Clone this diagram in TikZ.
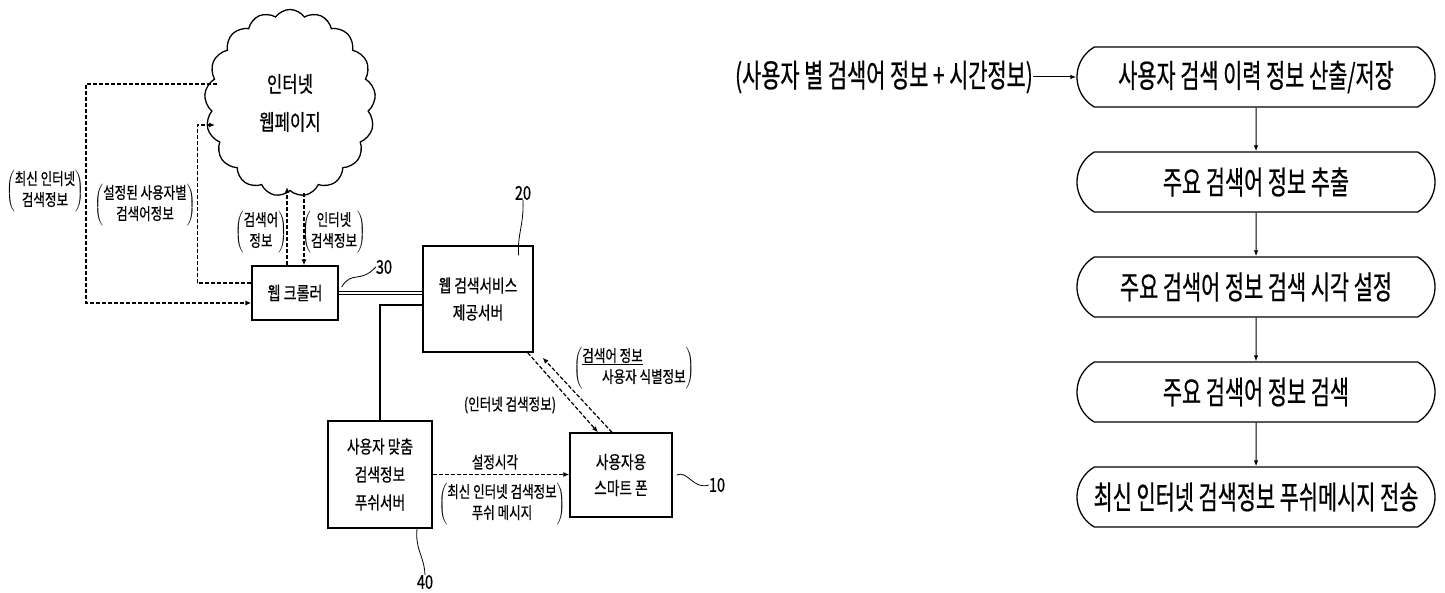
\documentclass[tikz,border=0pt]{standalone}
\usepackage{fontspec}
\setmainfont{Noto Sans CJK KR}[FakeStretch=0.65,FakeBold=0.6]
\newfontfamily\lf{Noto Sans CJK KR}[FakeStretch=0.76,FakeBold=0.6]
\usetikzlibrary{shapes.symbols,shapes.misc,arrows.meta,calc}
\newcommand{\plab}[2][c]{$\left(\vcenter{\hbox{\begin{tabular}{@{}#1@{}}#2\end{tabular}}}\right)$}
\begin{document}
\begin{tikzpicture}[x=1pt,y=-1pt,
  box/.style={draw,line width=1.3pt,inner sep=0pt,align=center},
  lbl/.style={inner sep=0pt,align=center,font=\lf\fontsize{16.5}{21}\selectfont},
  num/.style={inner sep=0pt,font=\lf\fontsize{19}{22}\selectfont},
  dsh/.style={line width=1.2pt,dash pattern=on 4pt off 2pt},
  tip/.style={-{Latex[length=6pt,width=5pt]}},
  ftip/.style={line width=1pt,-{Latex[length=6pt,width=4.5pt]}},
  flow/.style={draw,rounded rectangle,rounded rectangle arc length=120,line width=1.3pt,minimum width=358pt,minimum height=60pt,inner sep=0pt,font=\fontsize{32}{36}\selectfont},
  lead/.style={line width=0.8pt}
]
\useasboundingbox[fill=white] (0,0) rectangle (1445,593);

% ---- left diagram ----
\node[cloud,draw,line width=1.3pt,cloud puffs=17,cloud puff arc=110,aspect=0.9,
      minimum width=171pt,minimum height=187pt,inner sep=0pt,align=center,
      font=\lf\fontsize{22}{38}\selectfont] (cloud) at (290,103) {인터넷\\웹페이지};

\node[box,minimum width=86pt,minimum height=54pt,font=\lf\fontsize{18.5}{24}\selectfont] (crawl) at (295,293) {웹 크롤러};
\node[box,minimum width=110pt,minimum height=106pt,font=\lf\fontsize{18}{27}\selectfont] (srv) at (478,299) {웹 검색서비스\\제공서버};
\node[box,minimum width=104pt,minimum height=107pt,font=\lf\fontsize{18}{28}\selectfont] (push) at (380,474.5) {사용자 맞춤\\검색정보\\푸쉬서버};
\node[box,minimum width=102pt,minimum height=84pt,font=\lf\fontsize{18}{26}\selectfont] (phone) at (621,475) {사용자용\\스마트 폰};

\coordinate (c1) at (217,84);
\coordinate (c2) at (215,125);
\coordinate (c3) at (287,187);
\coordinate (c4) at (304,193);

\draw[dsh,tip] (c1) -- ++(-131,0) |- ([yshift=-10pt]crawl.west);
\draw[dsh,tip] ([yshift=10pt]crawl.west) -- ++(-54,0) |- (c2);
\draw[dsh,tip] ([xshift=-8pt]crawl.north) -- (c3);
\draw[dsh,tip] (c4) -- ([xshift=9pt]crawl.north);

\draw[line width=1.5pt,double,double distance=1.6pt] (crawl.east) -- (crawl.east -| srv.west);
\draw[line width=1.6pt] ([yshift=-6pt]srv.west) -| (push.north);
\draw[dsh,tip] (push.east) -- (push.east -| phone.west);
\draw[dsh,tip] ([xshift=-6pt]srv.south east) -- ([xshift=-23pt]phone.north);
\draw[dsh,tip] ([xshift=-9pt]phone.north) -- ([xshift=9pt,yshift=-5pt]srv.south east);

\node[lbl] (l1) at (45,191) {\plab{최신 인터넷\\검색정보}};
\node[lbl] (l2) at (145,205) {\plab{설정된 사용자별\\검색어정보}};
\node[lbl] (l3) at (261,232) {\plab{검색어\\정보}};
\node[lbl] (l4) at (334,232) {\plab{인터넷\\검색정보}};
\node[lbl] (l5) at (510,405) {(인터넷 검색정보)};
\node[lbl] (l6) at (634,368) {\plab[l]{\underline{검색어 정보}\\\hspace{1.2em}사용자 식별정보}};
\node[lbl] (l7) at (495,462) {설정시각};
\node[lbl] (l8) at (502,504) {\plab{최신 인터넷 검색정보\\푸쉬 메시지}};

\node[num] (n20) at (523,193) {20};
\node[num] (n30) at (384,267) {30};
\node[num] (n10) at (717,485) {10};
\node[num] (n40) at (425,582) {40};

\draw[lead] (n20.south) .. controls (524,225) and (517,235) .. ([xshift=-15pt,yshift=-10pt]srv.north east);
\draw[lead] ([xshift=3pt,yshift=6pt]crawl.east) .. controls (352,270) and (360,284) .. (n30.west);
\draw[lead] ([xshift=4pt]phone.east) .. controls (688,470) and (693,490) .. (n10.west);
\draw[lead] ([xshift=37pt]push.south) .. controls (415,550) and (424,555) .. (n40.north);

% ---- flowchart ----
\node[flow] (f1) at (1256,77) {사용자 검색 이력 정보 산출/저장};
\node[flow] (f2) at (1256,182) {주요 검색어 정보 추출};
\node[flow] (f3) at (1256,287) {주요 검색어 정보 검색 시각 설정};
\node[flow] (f4) at (1256,392) {주요 검색어 정보 검색};
\node[flow] (f5) at (1256,497) {최신 인터넷 검색정보 푸쉬메시지 전송};
\node[inner sep=0pt,anchor=east,font=\fontsize{32}{36}\selectfont] (fin) at (1033,77) {(사용자 별 검색어 정보 + 시간정보)};

\draw[ftip] (fin.east) -- (f1.west);
\draw[ftip] (f1) -- (f2);
\draw[ftip] (f2) -- (f3);
\draw[ftip] (f3) -- (f4);
\draw[ftip] (f4) -- (f5);
\end{tikzpicture}
\end{document}
